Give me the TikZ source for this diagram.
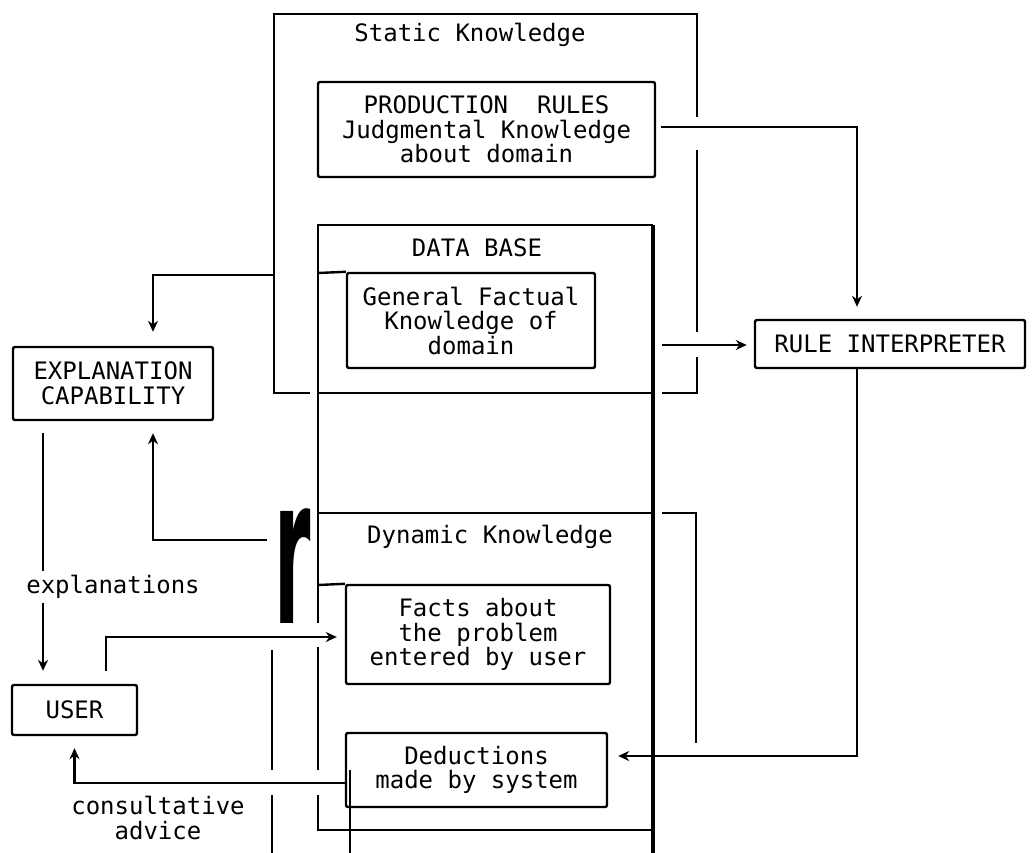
\documentclass[tikz,border=0pt]{standalone}
\usepackage{fontspec}
\setmainfont{DejaVu Sans Mono}
\newfontfamily\rfont{DejaVu Sans}
\usetikzlibrary{arrows.meta}
\tikzset{
  kbox/.style={draw, rounded corners=2pt, line width=2.4pt, inner sep=0pt, align=center},
  lbl/.style={inner sep=0pt, align=center},
  arr/.style={line width=2.4pt, -{Stealth[length=11pt,width=10pt]}},
  ln/.style={line width=2.4pt},
  thk/.style={line width=3.5pt}
}
\begin{document}
\begin{tikzpicture}[x=1pt, y=-1pt, font=\fontsize{24}{24.5}\selectfont]
  \useasboundingbox (0,0) rectangle (1033,853);
  \node[kbox, minimum width=337pt, minimum height=95pt] (prod) at (486.5,129.5) {PRODUCTION~~RULES\\Judgmental Knowledge\\about domain};
  \node[kbox, minimum width=248pt, minimum height=95pt] (fact) at (471,320.5) {General Factual\\Knowledge of\\domain};
  \node[kbox, minimum width=270pt, minimum height=48pt] (ri) at (890,344) {RULE INTERPRETER};
  \node[kbox, minimum width=200pt, minimum height=73pt] (expl) at (113,383.5) {EXPLANATION\\CAPABILITY};
  \node[kbox, minimum width=125pt, minimum height=50pt] (user) at (74.5,710) {USER};
  \node[kbox, minimum width=264pt, minimum height=99pt] (facts) at (478,634.5) {Facts about\\the problem\\entered by user};
  \node[kbox, minimum width=261pt, minimum height=74pt] (ded) at (476.5,770) {Deductions\\made by system};
  \node[lbl] (stat) at (470,35) {Static Knowledge};
  \node[lbl] (dbase) at (477,248) {DATA BASE};
  \node[lbl] (dyn) at (490,537) {Dynamic Knowledge};
  \node[lbl] (adv) at (158,818) {consultative\\advice};
  \node[lbl, font={\rfont\bfseries\fontsize{205}{205}\selectfont}, anchor=base] (rglyph) at (293,623) {\scalebox{0.36}[1]{r}};
  % static knowledge
  \draw[ln] (310,393) -- (274,393) -- (274,14) -- (697,14) -- (697,117);
  \draw[ln] (697,150) -- (697,332);
  \draw[ln] (697,357) -- (697,393) -- (662,393);
  % data base
  \draw[ln] (318,623) -- (318,225) -- (653,225);
  \draw[thk] (653,225) -- (653,853);
  \draw[ln] (318,273) -- (fact.north west);
  \draw[ln] (318,393) -- (653,393);
  \draw[ln] (318,513) -- (653,513);
  \draw[ln] (318,585) -- (facts.north west);
  \draw[ln] (318,647) -- (318,770);
  \draw[ln] (318,795) -- (318,830) -- (653,830);
  \draw[ln] (272,650) -- (272,770);
  \draw[ln] (272,795) -- (272,853);
  \draw[ln] (350,770) -- (350,853);
  \draw[ln] (662,513) -- (696,513) -- (696,743);
  % arrows
  \coordinate (sk) at (274,275);
  \coordinate (dk) at (267,540);
  \coordinate (fo) at (662,345);
  \draw[arr, shorten >=14pt] (sk) -| ([xshift=40pt]expl.north);
  \draw[arr, shorten >=12pt] (dk) -| ([xshift=40pt]expl.south);
  \draw[arr, shorten >=7pt] (fo) -- (fo -| ri.west);
  \draw[arr, shorten <=5pt, shorten >=12pt] ([yshift=2.5pt]prod.east) -| ([xshift=-33pt]ri.north);
  \draw[arr, shorten >=10pt] ([xshift=-33pt]ri.south) |- ([yshift=14pt]ded.east);
  \draw[arr, shorten <=12pt, shorten >=13pt] ([xshift=-70pt]expl.south) -- ([xshift=-70pt]expl.south |- user.north);
  \node[lbl, fill=white, inner ysep=4pt] (expt) at (113,587) {explanations};
  \draw[arr, shorten <=13pt, shorten >=8pt] ([xshift=31.5pt]user.north) |- ([yshift=-2.5pt]facts.west);
  \draw[arr, shorten >=12pt] ([yshift=-13pt]ded.west) -| (user.south);
\end{tikzpicture}
\end{document}
